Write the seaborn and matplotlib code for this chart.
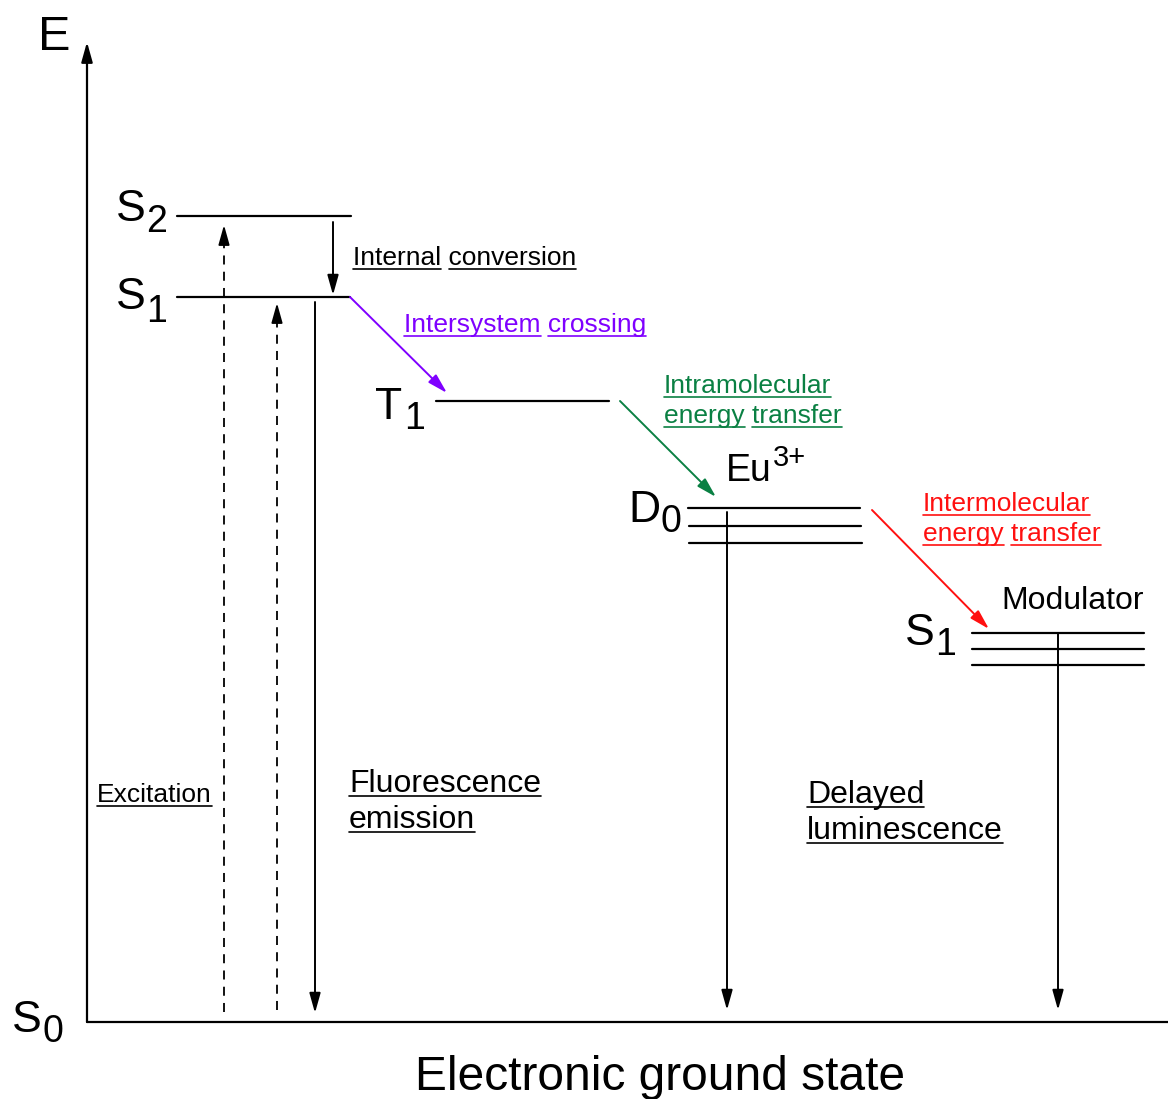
import matplotlib
matplotlib.use("Agg")
import matplotlib.pyplot as plt
import seaborn as sns
import pandas as pd

sns.set_theme(style="white")
plt.rcParams['font.family'] = ['Liberation Sans', 'DejaVu Sans']

# ---------------- data ----------------
# energy levels: name, x start, x end, y (pixel-space diagram coordinates)
level_names = ["S2", "S1", "T1", "D0a", "D0b", "D0c", "M1a", "M1b", "M1c"]
level_x0 = [177, 177, 436, 688, 689, 689, 972, 972, 972]
level_x1 = [351, 350, 609, 860, 861, 862, 1144, 1144, 1144]
level_y = [216, 297, 401, 508, 526, 543, 633, 649, 665]

# transitions (solid arrows): tail -> tip
arrow_names = ["E axis", "Internal conversion", "Fluorescence", "ISC",
               "Intramolecular", "Delayed", "Intermolecular", "Modulator"]
arrow_x0 = [87, 333, 315, 350, 620, 727, 872, 1058]
arrow_y0 = [1022, 222, 302, 297, 401, 512, 510, 633]
arrow_x1 = [87, 333, 315, 447, 716, 727, 989, 1058]
arrow_y1 = [42, 295, 1013, 393, 497, 1010, 629, 1010]
arrow_col = ["black", "black", "black", "#7F00FF", "#0A8043", "black", "#FF1010", "black"]

# excitation (dashed arrows)
exc_x = [224, 277]
exc_y0 = [1012, 1010]
exc_y1 = [225, 303]

# x-axis baseline
axis_x = [87, 1168]
axis_y = [1022, 1022]

W, H = 1168, 1099
fig = plt.figure(figsize=(W / 100, H / 100), dpi=100)
ax = fig.add_axes([0, 0, 1, 1])
ax.set_xlim(0, W)
ax.set_ylim(H, 0)
ax.axis("off")

# levels + x axis
segs = []
for i, n in enumerate(level_names):
    segs += [dict(seg=n, x=level_x0[i], y=level_y[i]), dict(seg=n, x=level_x1[i], y=level_y[i])]
segs += [dict(seg="xaxis", x=axis_x[0], y=axis_y[0]), dict(seg="xaxis", x=axis_x[1], y=axis_y[1])]
df_lev = pd.DataFrame(segs)
sns.lineplot(data=df_lev, x="x", y="y", units="seg", estimator=None, sort=False,
             color="black", lw=1.6, ax=ax, legend=False)

# dashed excitation shafts
dsegs = []
for i in range(len(exc_x)):
    dsegs += [dict(seg=i, x=exc_x[i], y=exc_y0[i]), dict(seg=i, x=exc_x[i], y=exc_y1[i] + 10)]
sns.lineplot(data=pd.DataFrame(dsegs), x="x", y="y", units="seg", estimator=None, sort=False,
             color="black", lw=1.3, linestyle=(0, (5, 4)), ax=ax, legend=False)

astyle = "-|>,head_length=1.0,head_width=0.28"
for i in range(len(exc_x)):
    ax.annotate("", xy=(exc_x[i], exc_y1[i]), xytext=(exc_x[i], exc_y1[i] + 14),
                arrowprops=dict(arrowstyle=astyle, color="black", lw=1.3,
                                shrinkA=0, shrinkB=0, mutation_scale=12))

for i in range(len(arrow_names)):
    ax.annotate("", xy=(arrow_x1[i], arrow_y1[i]), xytext=(arrow_x0[i], arrow_y0[i]),
                arrowprops=dict(arrowstyle=astyle, color=arrow_col[i], lw=1.6 if i == 0 else 1.4,
                                shrinkA=0, shrinkB=0, mutation_scale=12))

renderer = fig.canvas.get_renderer()


def text_w(s, size):
    t = ax.text(0, 0, s, fontsize=size)
    bb = t.get_window_extent(renderer=renderer)
    t.remove()
    return bb.width


underlines = []


def utext(x, y, line, color, size):
    ax.text(x, y, line, color=color, fontsize=size, ha="left", va="baseline")
    words = line.split(" ")
    for i, w in enumerate(words):
        pre = " ".join(words[:i + 1])
        end = text_w(pre, size)
        wl = text_w(w, size)
        key = f"{x}-{y}-{i}"
        underlines.append(dict(seg=key, x=x + end - wl, y=y + 3.5, c=color))
        underlines.append(dict(seg=key, x=x + end, y=y + 3.5, c=color))


small, mid = 19, 23
utext(353, 265, "Internal conversion", "black", small)
utext(404, 332, "Intersystem crossing", "#7F00FF", small)
utext(664, 393, "Intramolecular", "#0A8043", small)
utext(664, 423, "energy transfer", "#0A8043", small)
utext(923, 511, "Intermolecular", "#FF1010", small)
utext(923, 541, "energy transfer", "#FF1010", small)
utext(97, 802, "Excitation", "black", small)
utext(349, 792, "Fluorescence", "black", mid)
utext(349, 828, "emission", "black", mid)
utext(807, 803, "Delayed", "black", mid)
utext(807, 839, "luminescence", "black", mid)

udf = pd.DataFrame(underlines)
for c, g in udf.groupby("c"):
    sns.lineplot(data=g, x="x", y="y", units="seg", estimator=None, sort=False,
                 color=c, lw=1.2, ax=ax, legend=False)

# state labels
big, sub = 32, 27
labels = [("S", "2", 116, 221, 146, 232), ("S", "1", 116, 309, 146, 322),
          ("S", "0", 12, 1032, 42, 1042), ("T", "1", 375, 419, 404, 429),
          ("D", "0", 628, 522, 660, 532), ("S", "1", 905, 645, 935, 655)]
for m, s, x, y, xs, ys in labels:
    ax.text(x, y, m, fontsize=big, ha="left", va="baseline", color="black")
    ax.text(xs, ys, s, fontsize=sub, ha="left", va="baseline", color="black")

ax.text(38, 50, "E", fontsize=35, ha="left", va="baseline", color="black")
ax.text(726, 481, "Eu", fontsize=27, ha="left", va="baseline", color="black")
ax.text(773, 466, "3+", fontsize=21, ha="left", va="baseline", color="black")
ax.text(1001, 609, "Modulator", fontsize=23, ha="left", va="baseline", color="black")
ax.text(415, 1090, "Electronic ground state", fontsize=34.5, ha="left", va="baseline", color="black")

fig.savefig("out.png", dpi=100)
